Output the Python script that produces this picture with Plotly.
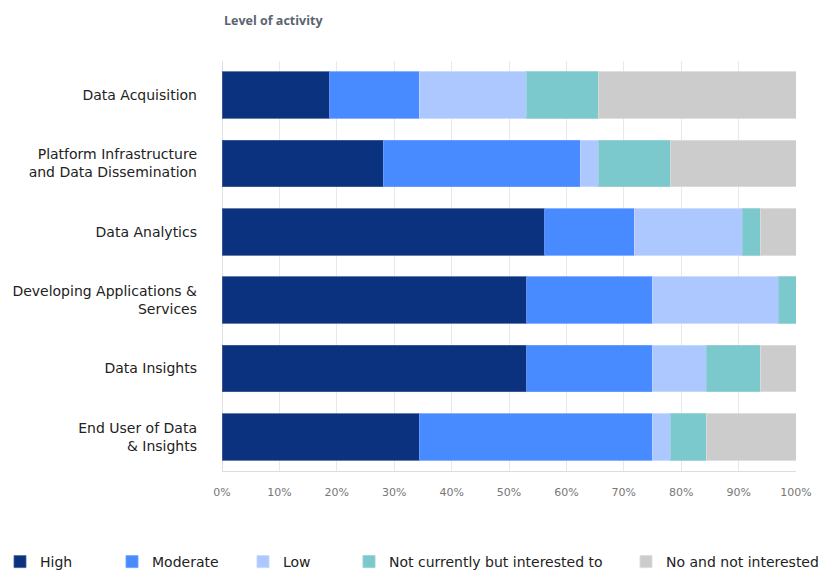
import plotly.graph_objects as go

# Survey: level of activity per data-value-chain stage (share of respondents, %)
categories = [
    "Data Acquisition",
    "Platform Infrastructure<br>and Data Dissemination",
    "Data Analytics",
    "Developing Applications &<br>Services",
    "Data Insights",
    "End User of Data<br>& Insights",
]

high = [18.75, 28.13, 56.25, 53.13, 53.13, 34.38]
moderate = [15.63, 34.38, 15.63, 21.88, 21.88, 40.63]
low = [18.75, 3.13, 18.75, 21.88, 9.38, 3.13]
not_currently = [12.50, 12.50, 3.13, 3.13, 9.38, 6.25]
not_interested = [34.38, 21.88, 6.25, 0.0, 6.25, 15.63]

series_names = ["High", "Moderate", "Low", "Not currently but interested to", "No and not interested"]
series_values = [high, moderate, low, not_currently, not_interested]
series_colors = ["#0B327E", "#488AFF", "#ADC7FF", "#7BC8CD", "#CCCCCC"]
edge_colors = ["rgba(70,95,150,0.8)", "rgba(110,160,255,0.8)", "rgba(200,215,255,0.9)",
               "rgba(150,210,215,0.9)", "rgba(220,220,220,0.9)"]

tick_vals = [0, 10, 20, 30, 40, 50, 60, 70, 80, 90, 100]
tick_text = ["0%", "10%", "20%", "30%", "40%", "50%", "60%", "70%", "80%", "90%", "100%"]

# Each series gets its own single-entry legend so entries sit at fixed spots
legend_px = [0, 112, 243, 349, 626]
plot_left, plot_width = 222, 574

fig = go.Figure()
for i, (name, vals, col) in enumerate(zip(series_names, series_values, series_colors)):
    lg = "legend" if i == 0 else f"legend{i + 1}"
    fig.add_trace(go.Bar(
        y=categories, x=vals, name=name, orientation="h",
        marker=dict(color=col, line=dict(color=edge_colors[i], width=1)),
        legend=lg,
        hovertemplate="%{y}: %{x:.1f}%<extra>" + name + "</extra>",
    ))

legend_common = dict(
    orientation="h", yanchor="middle", y=-0.222, xanchor="left",
    font=dict(family="DejaVu Sans", size=14, color="#222222"),
    bgcolor="rgba(0,0,0,0)", borderwidth=0,
)
layout_legends = {}
for i, px in enumerate(legend_px):
    key = "legend" if i == 0 else f"legend{i + 1}"
    layout_legends[key] = dict(legend_common, x=(px - plot_left) / plot_width)

fig.update_layout(
    barmode="stack",
    bargap=0.32,
    width=830, height=570,
    margin=dict(l=222, r=34, t=61, b=99, autoexpand=False),
    paper_bgcolor="white", plot_bgcolor="white",
    showlegend=True,
    **layout_legends,
    xaxis=dict(
        range=[0, 100], tickvals=tick_vals, ticktext=tick_text,
        showgrid=True, gridcolor="#E8E8E8", gridwidth=1,
        zeroline=True, zerolinecolor="#E0E0E0", zerolinewidth=1,
        showline=True, linecolor="#DDDDDD", linewidth=1,
        ticks="outside", ticklen=11, tickcolor="rgba(0,0,0,0)",
        tickfont=dict(family="DejaVu Sans", size=11, color="#777777"),
        automargin=False, fixedrange=True,
    ),
    yaxis=dict(
        autorange="reversed", showgrid=False, zeroline=False,
        ticklabelstandoff=24,
        tickfont=dict(family="DejaVu Sans", size=14, color="#222222"),
        automargin=False, fixedrange=True,
    ),
    annotations=[dict(
        text="<b>Level of activity</b>", xref="paper", yref="paper",
        x=0, y=1, yshift=41, xanchor="left", yanchor="middle", showarrow=False,
        font=dict(family="Open Sans", size=12.5, color="#5A6470"),
    )],
)

fig.write_html("out.html")
